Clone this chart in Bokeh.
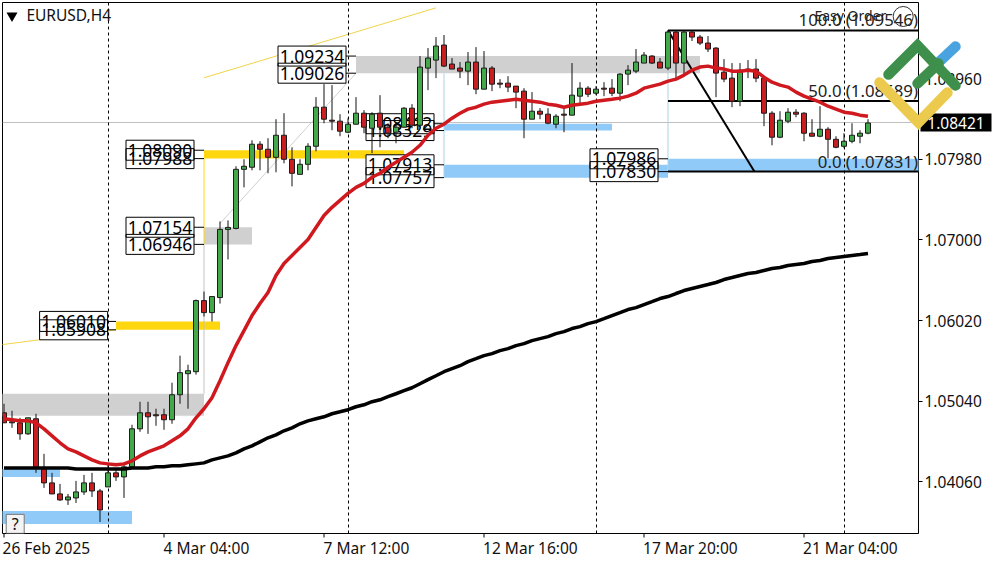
from bokeh.plotting import figure
from bokeh.layouts import column
from bokeh.models import ColumnDataSource, LinearAxis, FixedTicker, Range1d
from bokeh.core.properties import value
from bokeh.embed import file_html
from bokeh.resources import INLINE

symbol = "EURUSD,H4"
tick_bars = [0, 20, 40, 60, 80, 100]
tick_label_bars = [5.3, 25.3, 45.3, 65.8, 85.8, 105.8]
tick_dates = ["26 Feb 2025", "4 Mar 04:00", "7 Mar 12:00", "12 Mar 16:00", "17 Mar 20:00", "21 Mar 04:00"]
price_ticks = [1.04060, 1.05040, 1.06020, 1.07000, 1.07980, 1.08960]
session_bars = [13, 43, 74, 105]
last_price = 1.08421

opens = [1.04900,1.04790,1.04778,1.04644,1.04827,1.04230,1.04048,1.03914,1.03841,1.03865,1.03938,1.04048,1.03950,1.03999,1.04170,1.04121,1.04243,1.04705,1.04900,1.04876,1.04876,1.04815,1.05119,1.05375,1.05399,1.06263,1.06117,1.06300,1.07128,1.07140,1.07858,1.07883,1.08163,1.08102,1.08004,1.08272,1.07980,1.07797,1.07919,1.08138,1.08613,1.08455,1.08443,1.08309,1.08406,1.08540,1.08357,1.08540,1.08370,1.08309,1.08370,1.08601,1.08394,1.09088,1.09185,1.09368,1.09137,1.09088,1.09051,1.09161,1.08832,1.09088,1.08905,1.08905,1.08869,1.08808,1.08467,1.08564,1.08528,1.08406,1.08528,1.08516,1.08747,1.08844,1.08783,1.08844,1.08844,1.08783,1.09015,1.09051,1.09149,1.09234,1.09161,1.09088,1.09526,1.09149,1.09526,1.09465,1.09392,1.09331,1.09039,1.08966,1.08686,1.09076,1.09076,1.08966,1.08540,1.08248,1.08443,1.08552,1.08540,1.08297,1.08260,1.08345,1.08223,1.08138,1.08199,1.08260,1.08297]
highs = [1.05009,1.04924,1.04839,1.04839,1.04888,1.04401,1.04170,1.04036,1.03914,1.04072,1.04145,1.04170,1.03975,1.04279,1.04218,1.04291,1.04754,1.05034,1.05034,1.04949,1.04949,1.05265,1.05594,1.05484,1.06276,1.06373,1.06312,1.07225,1.07237,1.07895,1.07980,1.08211,1.08199,1.08236,1.08467,1.08540,1.08126,1.07980,1.08175,1.08735,1.08893,1.08881,1.08528,1.08479,1.08735,1.08577,1.08552,1.08759,1.08418,1.08418,1.08613,1.08650,1.09234,1.09331,1.09465,1.09490,1.09210,1.09161,1.09283,1.09343,1.09295,1.09112,1.08954,1.08990,1.08869,1.08844,1.08796,1.08601,1.08601,1.08528,1.08601,1.09149,1.08917,1.08869,1.08869,1.08917,1.08954,1.09027,1.09124,1.09319,1.09283,1.09246,1.09210,1.09550,1.09550,1.09550,1.09538,1.09490,1.09477,1.09343,1.09197,1.09149,1.09149,1.09185,1.09197,1.08978,1.08564,1.08564,1.08601,1.08589,1.08552,1.08467,1.08625,1.08370,1.08260,1.08297,1.08418,1.08333,1.08467]
lows = [1.04778,1.04717,1.04571,1.04632,1.04170,1.03987,1.03914,1.03829,1.03780,1.03804,1.03902,1.03877,1.03573,1.03999,1.04072,1.03865,1.04243,1.04669,1.04644,1.04742,1.04693,1.04766,1.05009,1.04949,1.05363,1.06069,1.06008,1.06227,1.06763,1.07128,1.07639,1.07846,1.07846,1.07810,1.07822,1.07931,1.07651,1.07797,1.07846,1.08077,1.08418,1.08333,1.08260,1.08297,1.08406,1.08297,1.08053,1.08126,1.08236,1.08175,1.08370,1.08357,1.08370,1.08820,1.08966,1.09100,1.09076,1.08966,1.08881,1.08771,1.08832,1.08808,1.08844,1.08796,1.08601,1.08236,1.08467,1.08467,1.08406,1.08357,1.08309,1.08516,1.08662,1.08735,1.08759,1.08747,1.08747,1.08686,1.08881,1.09027,1.09149,1.09137,1.09088,1.09063,1.08942,1.09003,1.09417,1.09368,1.09283,1.08735,1.08917,1.08613,1.08625,1.08966,1.08917,1.08382,1.08150,1.08236,1.08418,1.08491,1.08199,1.08260,1.08248,1.07992,1.08114,1.08114,1.08175,1.08175,1.08284]
closes = [1.04778,1.04778,1.04644,1.04839,1.04230,1.04048,1.03914,1.03841,1.03877,1.03938,1.04048,1.03950,1.03719,1.04170,1.04121,1.04243,1.04705,1.04900,1.04851,1.04863,1.04815,1.05119,1.05387,1.05411,1.06263,1.06117,1.06312,1.07128,1.07152,1.07858,1.07895,1.08163,1.08102,1.08004,1.08272,1.07980,1.07810,1.07919,1.08138,1.08613,1.08467,1.08443,1.08321,1.08406,1.08540,1.08370,1.08528,1.08370,1.08297,1.08370,1.08601,1.08394,1.09100,1.09210,1.09356,1.09112,1.09076,1.09051,1.09161,1.08832,1.09088,1.08893,1.08893,1.08857,1.08796,1.08467,1.08564,1.08528,1.08418,1.08503,1.08516,1.08759,1.08844,1.08771,1.08832,1.08832,1.08783,1.09015,1.09063,1.09161,1.09246,1.09149,1.09088,1.09526,1.09149,1.09526,1.09465,1.09392,1.09319,1.09027,1.08954,1.08686,1.09063,1.09063,1.08966,1.08540,1.08248,1.08455,1.08552,1.08528,1.08297,1.08260,1.08345,1.08223,1.08126,1.08199,1.08272,1.08297,1.08421]
ma_fast = [1.04827,1.04815,1.04802,1.04802,1.04778,1.04705,1.04620,1.04535,1.04462,1.04425,1.04376,1.04328,1.04291,1.04279,1.04267,1.04279,1.04316,1.04376,1.04425,1.04462,1.04498,1.04559,1.04620,1.04705,1.04839,1.04949,1.05083,1.05290,1.05509,1.05716,1.05898,1.06081,1.06227,1.06361,1.06568,1.06714,1.06811,1.06909,1.07006,1.07152,1.07298,1.07396,1.07481,1.07566,1.07639,1.07688,1.07761,1.07810,1.07883,1.07943,1.08004,1.08065,1.08150,1.08272,1.08357,1.08406,1.08479,1.08540,1.08589,1.08613,1.08650,1.08674,1.08686,1.08698,1.08710,1.08698,1.08686,1.08674,1.08650,1.08637,1.08613,1.08637,1.08650,1.08662,1.08686,1.08698,1.08710,1.08723,1.08747,1.08783,1.08844,1.08869,1.08893,1.08930,1.08954,1.09003,1.09063,1.09100,1.09112,1.09088,1.09076,1.09051,1.09051,1.09063,1.09051,1.08978,1.08917,1.08881,1.08857,1.08796,1.08747,1.08710,1.08674,1.08625,1.08589,1.08552,1.08540,1.08516,1.08503]
ma_slow = [1.04230,1.04230,1.04230,1.04230,1.04230,1.04230,1.04230,1.04230,1.04230,1.04218,1.04218,1.04218,1.04218,1.04218,1.04218,1.04218,1.04230,1.04230,1.04230,1.04243,1.04243,1.04255,1.04255,1.04267,1.04279,1.04291,1.04328,1.04352,1.04376,1.04413,1.04462,1.04498,1.04547,1.04596,1.04632,1.04681,1.04717,1.04766,1.04802,1.04827,1.04851,1.04888,1.04912,1.04937,1.04973,1.04997,1.05034,1.05058,1.05095,1.05131,1.05168,1.05204,1.05253,1.05302,1.05350,1.05399,1.05436,1.05472,1.05521,1.05557,1.05594,1.05618,1.05655,1.05679,1.05716,1.05740,1.05777,1.05801,1.05825,1.05862,1.05886,1.05923,1.05947,1.05983,1.06008,1.06044,1.06081,1.06117,1.06154,1.06178,1.06215,1.06251,1.06288,1.06312,1.06349,1.06385,1.06410,1.06434,1.06458,1.06483,1.06519,1.06543,1.06568,1.06592,1.06604,1.06629,1.06653,1.06665,1.06690,1.06702,1.06714,1.06738,1.06750,1.06775,1.06787,1.06799,1.06811,1.06823,1.06836]

gray_zones = [(-1, 25, 1.05131, 1.04863), (25, 31, 1.07154, 1.06946), (44, 87, 1.09234, 1.09026)]
gold_zones = [(14, 27, 1.06010, 1.05908), (25, 50, 1.08090, 1.07988)]
blue_zones = [(-1, 7, 1.04218, 1.04121), (-1, 16, 1.03707, 1.03549), (55, 76, 1.08412, 1.08329),
              (55, 83, 1.07913, 1.07757), (83, 120, 1.07986, 1.07830)]
# text, bar at the centre of its tag, price, bar where the zone starts
level_tags = [("1.06010", 8.7, 1.06010, 14), ("1.05908", 8.7, 1.05908, 14),
              ("1.08090", 19.5, 1.08090, 25), ("1.07988", 19.5, 1.07988, 25),
              ("1.07154", 19.5, 1.07154, 25), ("1.06946", 19.5, 1.06946, 25),
              ("1.09234", 38.5, 1.09234, 44), ("1.09026", 38.5, 1.09026, 44),
              ("1.08412", 49.5, 1.08412, 55), ("1.08329", 49.5, 1.08329, 55),
              ("1.07913", 49.5, 1.07913, 55), ("1.07757", 49.5, 1.07757, 55),
              ("1.07986", 77.5, 1.07986, 83), ("1.07830", 77.5, 1.07830, 83)]
fib_levels = [("100.0 (1.09546)", 1.09546), ("50.0 (1.08689)", 1.08689), ("0.0 (1.07831)", 1.07831)]

FONT = "Noto Sans"
GREEN, RED = "#43a84a", "#c81e22"
n = len(opens)
bars = list(range(n))

p = figure(width=1000, height=562, output_backend="svg", toolbar_location=None,
           x_range=Range1d(-0.1875, 114.3125), y_range=Range1d(1.03433, 1.09885),
           min_border_left=2, min_border_top=2, min_border_right=82, min_border_bottom=29,
           background_fill_color="white", border_fill_color="white",
           outline_line_color="black", outline_line_width=1, margin=0, frame_align=False)
p.grid.visible = False
p.xaxis.visible = False
p.yaxis.visible = False

yax = LinearAxis(ticker=FixedTicker(ticks=price_ticks),
                 major_label_overrides={t: f"{t:.5f}" for t in price_ticks})
yax.major_label_text_font = FONT
yax.major_label_text_font_size = "15.5px"
yax.major_label_text_color = "#111111"
yax.major_tick_out = 4
yax.major_tick_in = 0
yax.minor_tick_out = 0
yax.minor_tick_in = 0
yax.axis_line_color = None
yax.major_label_standoff = 2
p.add_layout(yax, "right")

# the date texts start at their tick, so their axis carries them at the middle of each text
xlabels = LinearAxis(ticker=FixedTicker(ticks=tick_label_bars),
                     major_label_overrides=dict(zip(tick_label_bars, tick_dates)),
                     major_label_text_font=FONT, major_label_text_font_size="15.5px",
                     major_label_text_color="#111111", major_tick_out=0, major_tick_in=0,
                     minor_tick_out=0, minor_tick_in=0, major_tick_line_color=None,
                     axis_line_color=None, major_label_standoff=3)
p.add_layout(xlabels, "below")

for zones, col in ((gray_zones, "#d0d0d0"), (gold_zones, "#ffd70f"), (blue_zones, "#90caf8")):
    p.quad(left=[z[0] for z in zones], right=[z[1] for z in zones],
           top=[z[2] for z in zones], bottom=[z[3] for z in zones],
           fill_color=col, line_color=None)

# helper lines joining zones and swings
p.line([25, 25], [1.07988, 1.06946], line_color="#ffd70f", line_width=1)
p.line([25, 25], [1.06946, 1.05131], line_color="#c4c4c4", line_width=1)
p.line([27, 44], [1.07200, 1.09026], line_color="#cfcfcf", line_width=1)
p.line([-1, 14], [1.05718, 1.05908], line_color="#f2d34a", line_width=1)
p.line([25, 54], [1.08970, 1.09820], line_color="#f2d34a", line_width=1)
p.line([55, 55], [1.09026, 1.07757], line_color="#a8d4ee", line_width=1)
p.line([83, 83], [1.09546, 1.07831], line_color="#a8d4ee", line_width=1)

p.hspan(y=[last_price], line_color="#c0c0c0", line_width=1)
p.vspan(x=session_bars, line_color="black", line_width=1, line_dash="3 3")

# level tags: fills, then outlines, then text, so overlaps show through
tag_src = ColumnDataSource(dict(text=[t[0] for t in level_tags], x=[t[1] for t in level_tags],
                                y=[t[2] for t in level_tags],
                                x0=[t[1] + 4.25 for t in level_tags], x1=[t[3] for t in level_tags]))
p.segment(x0="x0", y0="y", x1="x1", y1="y", source=tag_src, line_color="black", line_width=1)
p.rect(x="x", y="y", width=68, height=20, width_units="screen", height_units="screen",
       source=tag_src, fill_color="white", line_color=None)
p.rect(x="x", y="y", width=68, height=20, width_units="screen", height_units="screen",
       source=tag_src, fill_color=None, line_color="black", line_width=1)
p.text(x="x", y="y", text="text", source=tag_src, text_font=value(FONT), text_font_size="17.5px",
       text_align="center", text_baseline="middle", text_color="black")

# fibonacci
p.segment(x0=[83] * 3, x1=[120] * 3, y0=[f[1] for f in fib_levels], y1=[f[1] for f in fib_levels],
          line_color="black", line_width=2)
p.line([83, 93.8], [1.09546, 1.07831], line_color="black", line_width=2)

# candles
src = ColumnDataSource(dict(x=bars, o=opens, h=highs, l=lows, c=closes,
                            top=[max(a, b) for a, b in zip(opens, closes)],
                            bottom=[min(a, b) for a, b in zip(opens, closes)],
                            col=[GREEN if c >= o else RED for o, c in zip(opens, closes)]))
p.segment(x0="x", x1="x", y0="l", y1="h", source=src, line_color="#111111", line_width=1)
p.vbar(x="x", top="top", bottom="bottom", width=0.625, source=src, fill_color="col",
       line_color="#1c1c1c", line_width=1)

p.line(bars, ma_slow, line_color="black", line_width=3.5)
p.line(bars, ma_fast, line_color="#d0181f", line_width=3.5)

p.text(x=[114.25] * 3, y=[f[1] for f in fib_levels], text=[f[0] for f in fib_levels],
       text_font=value(FONT), text_font_size="16.8px", text_align="right", text_baseline="bottom",
       text_color="#222222", y_offset=1)
p.text(x=[101.3], y=[1.09725], text=["Easy Order"], text_font=value(FONT), text_font_size="14px",
       text_baseline="middle", text_color="#222222")
p.scatter(x=[112.4], y=[1.09715], size=20, marker="circle", fill_color=None, line_color="#333333", line_width=1)
p.text(x=[2.8], y=[1.09730], text=[symbol], text_font=value(FONT), text_font_size="15.5px",
       text_baseline="middle", text_color="#111111")
p.scatter(x=[1.0], y=[1.09725], size=11, marker="inverted_triangle", fill_color="black", line_color=None)

# help box
p.rect(x=[1.4], y=[1.03550], width=18, height=19, width_units="screen", height_units="screen",
       fill_color="#f4f4f4", line_color="#777777", line_width=1)
p.text(x=[1.4], y=[1.03550], text=["?"], text_font=value(FONT), text_font_size="16px",
       text_align="center", text_baseline="middle", text_color="#111111")

# transparent sheet over the chart for what lies outside the plot frame
q = figure(width=1000, height=562, output_backend="svg", toolbar_location=None,
           x_range=Range1d(0, 1000), y_range=Range1d(562, 0), x_axis_type=None, y_axis_type=None,
           min_border=0, background_fill_color=None, border_fill_color=None, outline_line_color=None,
           margin=0, frame_align=False,
           styles={"position": "absolute", "left": "0px", "top": "0px", "z-index": "5"})
q.grid.visible = False
q.segment(x0=[3.5 + 8 * b for b in tick_bars], x1=[3.5 + 8 * b for b in tick_bars],
          y0=[533] * 6, y1=[537] * 6, line_color="black", line_width=1)
q.rect(x=[955.5], y=[122], width=71, height=18, fill_color="black", line_color=None)
q.text(x=[955.5], y=[122], text=[f"{last_price:.5f}"], text_font=value(FONT), text_font_size="15.5px",
       text_color="white", text_align="center", text_baseline="middle")
logo_strokes = [([938, 955], [62, 46], "#49a3e0"),
                ([879, 918, 947], [82, 122, 92], "#ebca4e"),
                ([888, 917, 955], [74, 45, 85], "#3e8f4c"),
                ([917, 938], [83, 63], "#3e8f4c")]
for xs, ys, col in logo_strokes:
    q.line(xs, ys, line_color=col, line_width=10.5, line_cap="round", line_join="miter")

page = column(p, q, width=1000, height=562, margin=0, styles={"position": "relative"})
open("out.html", "w").write(file_html(page, INLINE))
